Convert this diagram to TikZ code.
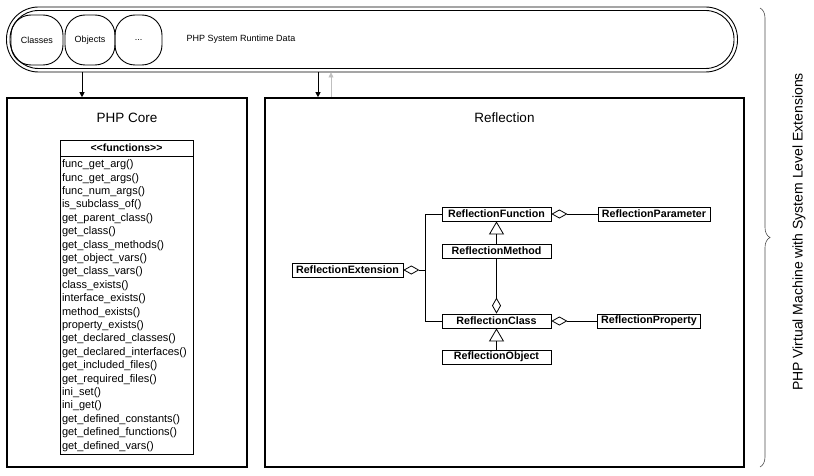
\documentclass[tikz,border=0pt]{standalone}
\usepackage{fontspec}
\setmainfont{Liberation Sans}
\usetikzlibrary{arrows.meta,positioning,decorations.pathreplacing}

\tikzset{
  pill/.style={draw, line width=0.9pt, rounded corners=20pt, minimum width=50pt, minimum height=50pt, inner sep=0pt, font=\fontsize{9}{11}\selectfont},
  band/.style={draw, line width=0.9pt, inner sep=0pt},
  layer/.style={draw, line width=1.6pt, minimum height=369pt, inner sep=0pt},
  title/.style={font=\fontsize{13.5}{16}\selectfont},
  cls/.style={draw, line width=0.8pt, minimum height=14pt, inner xsep=4pt, inner ysep=1pt, font=\fontsize{10.7}{12}\selectfont\bfseries},
  flow/.style={-{Triangle[length=5pt,width=5pt]}, line width=0.7pt},
  agg/.style={-{Diamond[open,length=16pt,width=9pt]}, line width=0.8pt},
  inh/.style={-{Triangle[open,length=13pt,width=15pt]}, line width=0.8pt}
}

\begin{document}
\begin{tikzpicture}[x=1pt,y=-1pt]
\useasboundingbox (0,0) rectangle (814,476);
\node[band, rounded corners=32pt, minimum width=731pt, minimum height=65pt] (runtime) at (372,39.5) {};
\node[band, rounded corners=28.5pt, minimum width=724pt, minimum height=58pt] (runtimein) at (372,39.5) {};
\node[pill, minimum width=52pt] (classes) at (37,40) {Classes};
\node[pill] (objects) at (90,40) {Objects};
\node[pill, minimum width=47pt] (more) at (138.5,40) {...};
\node[font=\fontsize{9}{11}\selectfont] (rtdata) at (241,39) {PHP System Runtime Data};

\node[layer, minimum width=240pt] (core) at (127,282.5) {};
\node[title] (coretitle) at (127,118) {PHP Core};
\node[draw, line width=0.8pt, minimum width=133pt, minimum height=16pt, inner sep=0pt, font=\fontsize{10.5}{12}\selectfont\bfseries] (funchead) at (126.5,148) {<{}<functions>{}>};
\node[draw, line width=0.8pt, below=0pt of funchead, text width=129pt, inner xsep=2pt, inner ysep=3pt, align=left, font=\fontsize{11}{13.4}\selectfont] (funcbody) {func\_get\_arg()\\
func\_get\_args()\\
func\_num\_args()\\
is\_subclass\_of()\\
get\_parent\_class()\\
get\_class()\\
get\_class\_methods()\\
get\_object\_vars()\\
get\_class\_vars()\\
class\_exists()\\
interface\_exists()\\
method\_exists()\\
property\_exists()\\
get\_declared\_classes()\\
get\_declared\_interfaces()\\
get\_included\_files()\\
get\_required\_files()\\
ini\_set()\\
ini\_get()\\
get\_defined\_constants()\\
get\_defined\_functions()\\
get\_defined\_vars()};

\node[layer, minimum width=479pt] (refl) at (504.5,282.5) {};
\node[title] (refltitle) at (504.5,118) {Reflection};
\node[cls, minimum width=109pt] (rfunc) at (496.5,214) {ReflectionFunction};
\node[cls, minimum width=109pt] (rmeth) at (496.5,251) {ReflectionMethod};
\node[cls, minimum width=109pt] (rclass) at (496.5,321) {ReflectionClass};
\node[cls, minimum width=109pt] (robj) at (496.5,357) {ReflectionObject};
\node[cls] (rext) at (347.5,270) {ReflectionExtension};
\node[cls] (rparam) at (654,214) {ReflectionParameter};
\node[cls] (rprop) at (649,321) {ReflectionProperty};
\coordinate (extjoint) at ([xshift=-16pt]rfunc.west |- rext.east);

\draw[flow] ([xshift=-45pt]core.north |- runtime.south) -- ([xshift=-45pt]core.north);
\draw[flow] ([xshift=-186.5pt]refl.north |- runtime.south) -- ([xshift=-186.5pt]refl.north);
\draw[flow, draw=black!25] ([xshift=-173.5pt]refl.north) -- ([xshift=-173.5pt]refl.north |- runtime.south);

\draw[agg] (rparam) -- (rfunc);
\draw[agg] (rprop) -- (rclass);
\draw[agg] (rmeth) -- (rclass);
\draw[inh] (rmeth) -- (rfunc);
\draw[inh] (robj) -- (rclass);
\draw[line width=0.8pt] (rfunc.west) -| (extjoint);
\draw[line width=0.8pt] (rclass.west) -| (extjoint);
\draw[agg] (extjoint) -- (rext);

\draw[line width=0.6pt, black!70, decorate, decoration={brace, amplitude=10pt}] (760,8) -- (760,467);
\node[rotate=90, font=\fontsize{14}{16}\selectfont] (vmlabel) at (799,232) {PHP Virtual Machine with System Level Extensions};
\end{tikzpicture}
\end{document}
